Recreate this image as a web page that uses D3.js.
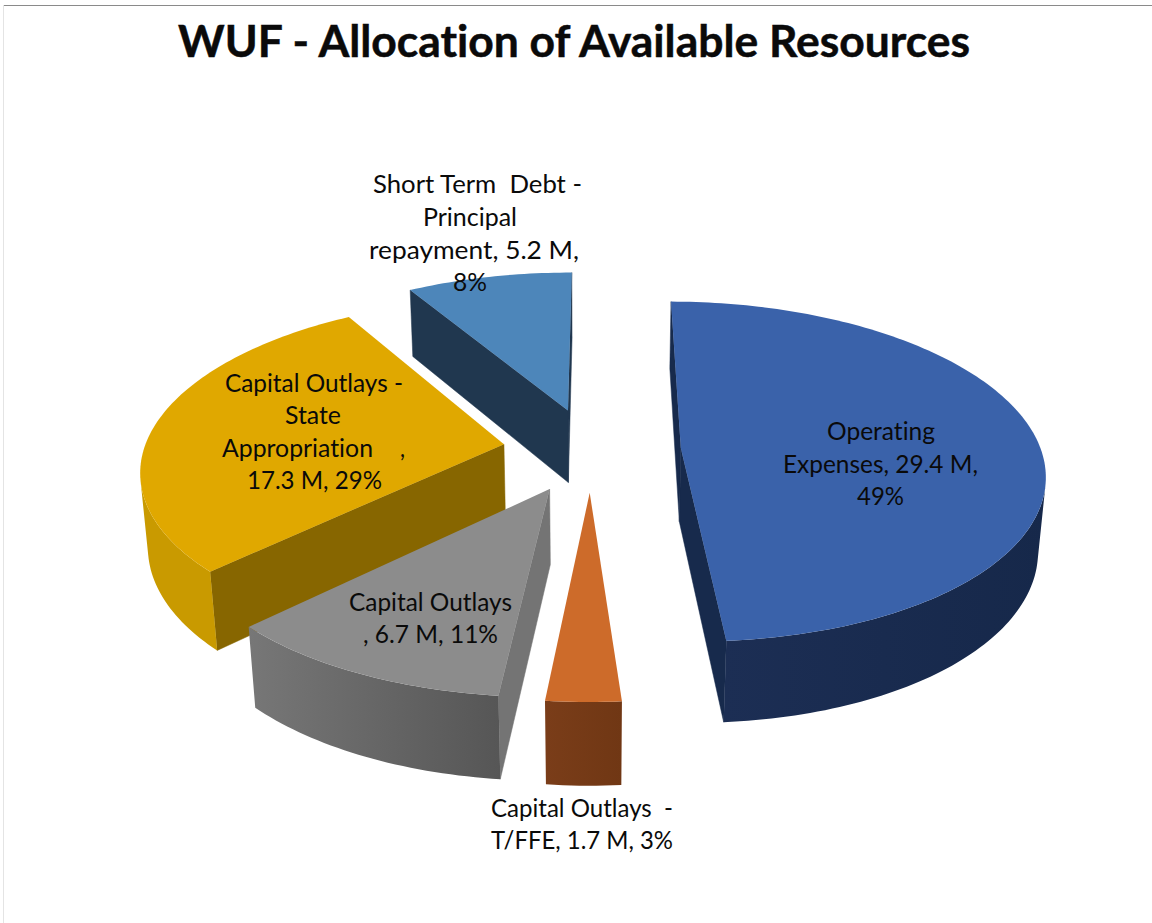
<!DOCTYPE html>
<html><head><meta charset="utf-8">
<style>html,body{margin:0;padding:0;background:#fff}svg{display:block}text{font-family:Lato,"Open Sans",sans-serif;fill:#0a0a0a;font-variant-ligatures:none;font-feature-settings:"liga" 0;white-space:pre}</style>
<script src="https://cdn.jsdelivr.net/npm/d3@7"></script></head>
<body><svg id="c" width="1152" height="923"></svg>
<script>
const title = "WUF - Allocation of Available Resources";
const categories = ["Operating Expenses","Capital Outlays - T/FFE","Capital Outlays","Capital Outlays - State Appropriation","Short Term Debt - Principal repayment"];
const values = [29.4,1.7,6.7,17.3,5.2];
const explosions = [0.25,0.25,0.255,0.245,0.25];
const topColors = ["#3A62AA","#CD6B2A","#8C8C8C","#E0A800","#4D86BA"];
const wallColors = ["#172A4C","#7A3E19","#747474","#876600","#20374F"];
const arcFrom = ["#1C2E54","#7A3D19","#777777","#C99A00","#20374F"];
const arcTo = ["#16284A","#703714","#565656","#C99A00","#20374F"];
const labelLines = [
 ["Operating","Expenses, 29.4 M,","49%"],
 ["Capital Outlays  -","T/FFE, 1.7 M, 3%"],
 ["Capital Outlays",", 6.7 M, 11%"],
 ["Capital Outlays -","State","Appropriation",",","17.3 M, 29%"],
 ["Short Term  Debt -","Principal","repayment, 5.2 M,","8%"]
];
// per line: left x, baseline y, width
const labelBoxes = [
 [[827,440,108],[783,473,195],[857,505,47]],
 [[491,817,182],[491,849,182]],
 [[349,611,163],[363,643,135]],
 [[225,392,178],[285,424,56],[222,457,151],[400,457,5],[247,489,135]],
 [[373,193,209],[423,226,94],[369,259,210],[453,291,34]]
];
const W=1152,H=923;
const svg=d3.select("#c");
const defs=svg.append("defs");
svg.append("line").attr("x1",3).attr("x2",W).attr("y1",5.5).attr("y2",5.5).attr("stroke","#8a8a8a").attr("stroke-width",1.2);
svg.append("line").attr("x1",3.5).attr("x2",3.5).attr("y1",5).attr("y2",H).attr("stroke","#e4e4e4");
svg.append("text").attr("x",178).attr("y",57).attr("font-size",44).attr("font-weight",700)
  .attr("stroke","#0a0a0a").attr("stroke-width",.5)
  .attr("textLength",792).attr("lengthAdjust","spacingAndGlyphs").text(title);

// camera
const cam={cx:591,cy:449.5,f:360,tilt:27.65*Math.PI/180,D:6.4,h:0.235};
const st=Math.sin(cam.tilt),ct=Math.cos(cam.tilt);
function project(x,y,z){
  const yv=y*st-z*ct, zv=y*ct+z*st, k=cam.D/(cam.D-zv);
  return [cam.cx+cam.f*x*k, cam.cy+cam.f*yv*k];
}
const line=d3.line();
const area=p=>d3.polygonArea(p);
const startRad=0.2*Math.PI/180;
const arcs=d3.pie().sort(null).startAngle(startRad).endAngle(startRad+2*Math.PI)(values);
const slices=arcs.map((a,i)=>{
  const mid=(a.startAngle+a.endAngle)/2, e=explosions[i];
  return {a,i,mid,ox:Math.sin(mid)*e,oy:-Math.cos(mid)*e};
});
slices.sort((p,q)=>p.oy-q.oy);
const g=svg.append("g");
slices.forEach(s=>{
  const {a,i,ox,oy}=s;
  const pt=(r,t,z)=>project(ox+r*Math.sin(t),oy-r*Math.cos(t),z);
  const n=Math.max(6,Math.ceil((a.endAngle-a.startAngle)/0.02));
  const ts=d3.range(n+1).map(j=>a.startAngle+(a.endAngle-a.startAngle)*j/n);
  const sg=g.append("g").attr("class","slice");
  // radial walls
  [[a.startAngle,1],[a.endAngle,-1]].forEach(([t,o])=>{
    const q=[pt(0,t,0),pt(1,t,0),pt(1,t,-cam.h),pt(0,t,-cam.h)];
    if(area(q)*o>0) sg.append("path").attr("d",line(q)+"Z").attr("fill",wallColors[i]).attr("stroke",wallColors[i]).attr("stroke-width",.5);
  });
  // outer wall
  const vis=ts.filter((t,j)=>j<n && area([pt(1,t,0),pt(1,ts[j+1],0),pt(1,ts[j+1],-cam.h),pt(1,t,-cam.h)])>0);
  if(vis.length){
    const tv=[...vis,vis[vis.length-1]+(a.endAngle-a.startAngle)/n];
    const poly=[...tv.map(t=>pt(1,t,0)),...tv.slice().reverse().map(t=>pt(1,t,-cam.h))];
    const xe=d3.extent(poly,p=>p[0]);
    const gr=defs.append("linearGradient").attr("id","arc"+i).attr("gradientUnits","userSpaceOnUse")
      .attr("x1",xe[0]).attr("x2",xe[1]).attr("y1",0).attr("y2",0);
    gr.append("stop").attr("offset",0).attr("stop-color",arcFrom[i]);
    gr.append("stop").attr("offset",1).attr("stop-color",arcTo[i]);
    sg.append("path").attr("d",line(poly)+"Z").attr("fill",`url(#arc${i})`);
  }
  // top
  const top=[pt(0,a.startAngle,0),...ts.map(t=>pt(1,t,0))];
  sg.append("path").attr("d",line(top)+"Z").attr("fill",topColors[i]);
});
const lg=svg.append("g");
labelLines.forEach((ls,i)=>ls.forEach((t,j)=>{
  const b=labelBoxes[i][j];
  lg.append("text").attr("x",b[0]).attr("y",b[1]).attr("font-size",25.5)
    .attr("textLength",b[2]).attr("lengthAdjust","spacingAndGlyphs").text(t);
}));
</script></body></html>
